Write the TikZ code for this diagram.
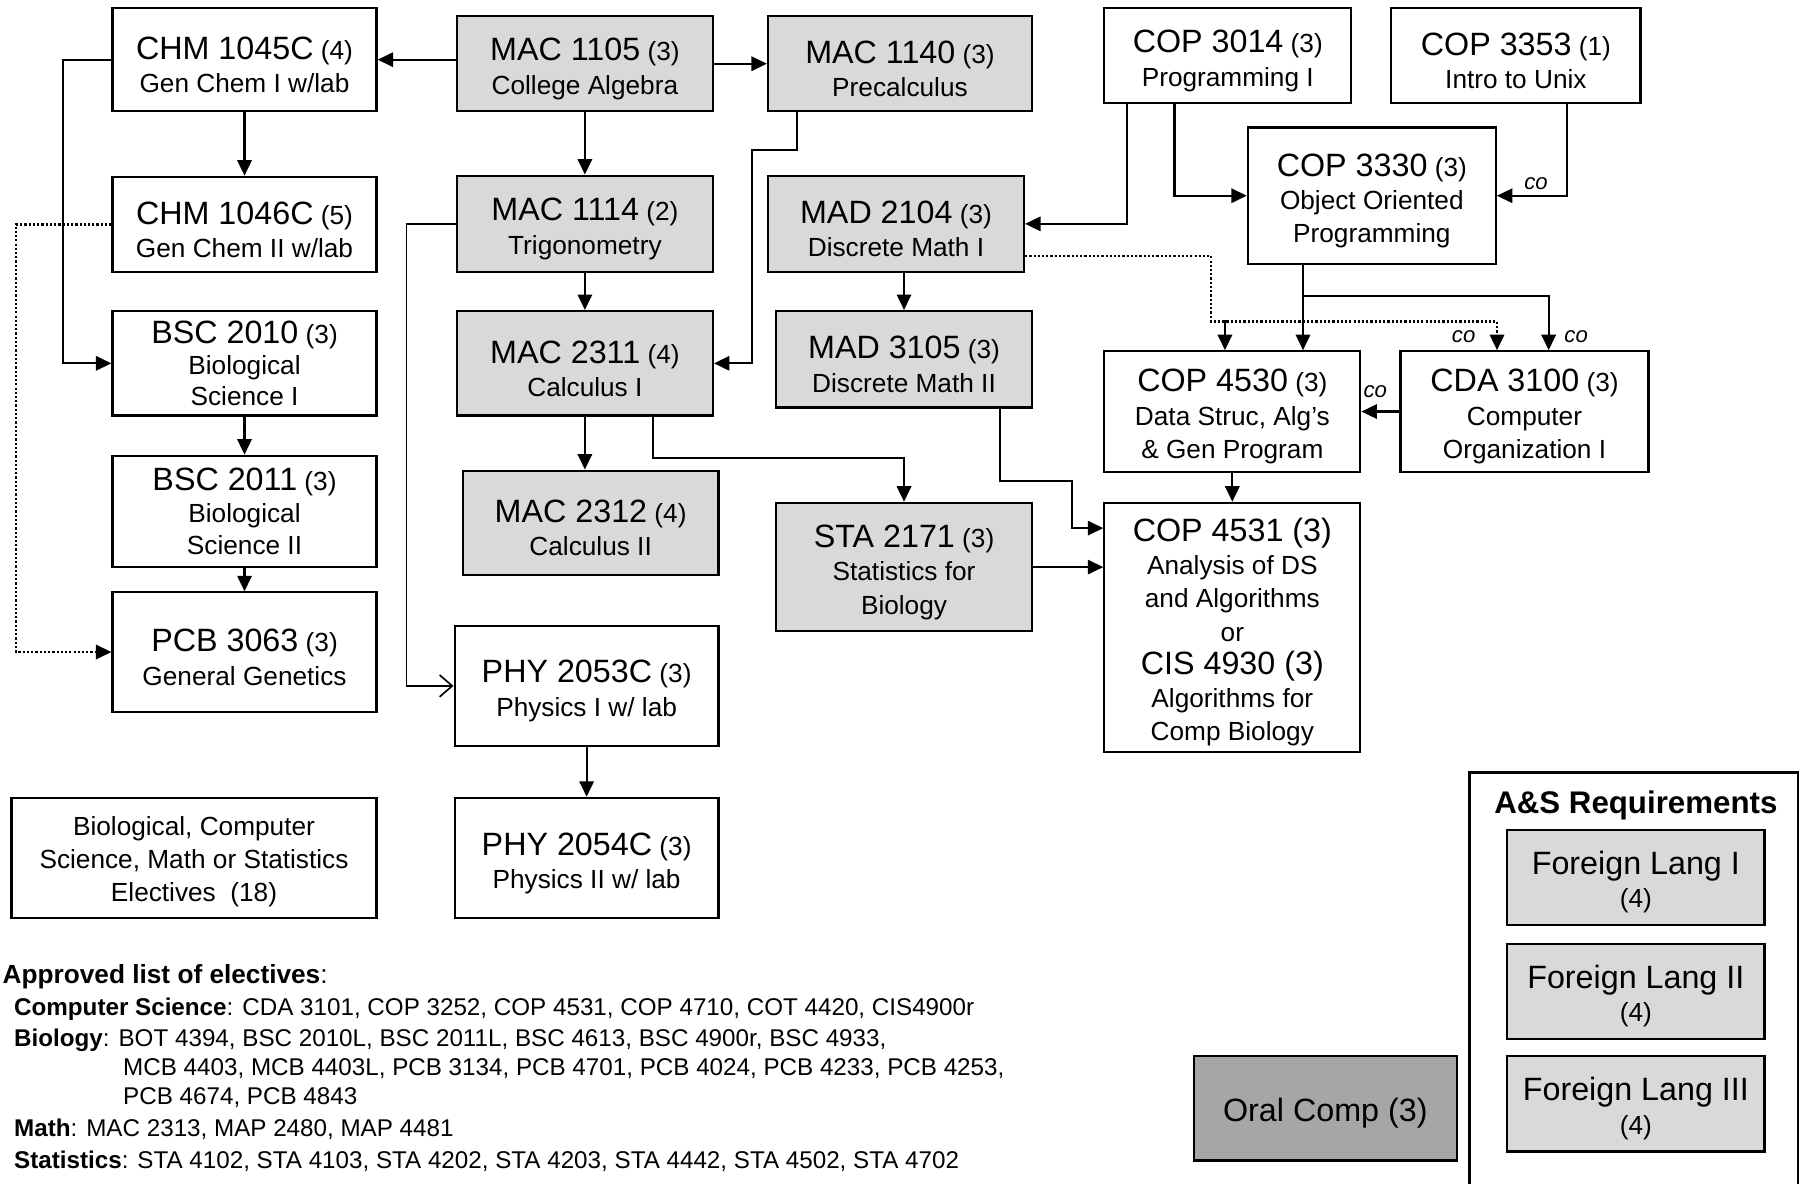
\documentclass[tikz,border=0pt]{standalone}
\usepackage{fontspec}
\setmainfont{Liberation Sans}
\usetikzlibrary{calc,arrows.meta}
\definecolor{lgray}{HTML}{D9D9D9}
\definecolor{dgray}{HTML}{A6A6A6}
\def\cnum#1{{\fontsize{16}{17}\selectfont\rule{0pt}{16.3pt}#1}}
\def\cnumt#1{{\fontsize{16}{17}\selectfont #1}}
\tikzset{
	crs/.style={draw, line width=1.1pt, inner sep=0pt, align=center, font=\fontsize{13}{16.5}\selectfont},
	crsg/.style={crs, fill=lgray},
	arr/.style={line width=1.1pt, -{Triangle[length=2.7mm,width=2.5mm]}},
	opn/.style={line width=0.8pt, -{Straight Barb[length=2.2mm,width=3.8mm]}},
	dots/.style={line width=1.1pt, densely dotted},
	colbl/.style={font=\fontsize{11}{11}\selectfont\itshape, inner sep=0pt},
	lst/.style={anchor=base west, inner sep=0pt, font=\fontsize{12}{12}\selectfont}
}

\begin{document}
\begin{tikzpicture}[x=0.02cm, y=-0.02cm]
		%%%%% START %%%%%
		\useasboundingbox (0,0) rectangle (1568,1031);
		
		\node[crs, minimum width=4.6cm, minimum height=1.8cm] (chma) at (213,52) {\cnum{CHM 1045C} (4)\\Gen Chem I w/lab};
		\node[crs, minimum width=4.6cm, minimum height=1.66cm] (chmb) at (213,195.5) {\cnum{CHM 1046C} (5)\\Gen Chem II w/lab};
		\node[crs, font=\fontsize{13}{15.6}\selectfont, minimum width=4.6cm, minimum height=1.82cm] (bsca) at (213,316.5) {\cnumt{BSC 2010} (3)\\Biological\\Science I};
		\node[crs, font=\fontsize{13}{15.8}\selectfont, minimum width=4.6cm, minimum height=1.94cm] (bscb) at (213,445.5) {\cnumt{BSC 2011} (3)\\Biological\\Science II};
		\node[crs, minimum width=4.6cm, minimum height=2.08cm] (pcb) at (213,568) {\cnum{PCB 3063} (3)\\General Genetics};
		\node[crs, minimum width=6.36cm, minimum height=2.1cm] (elect) at (169,747.5) {\rule{0pt}{13pt}Biological, Computer\\Science, Math or Statistics\\Electives~~(18)};
		
		\node[crsg, minimum width=4.46cm, minimum height=1.66cm] (maca) at (509.5,55.5) {\cnum{MAC 1105} (3)\\College Algebra};
		\node[crsg, minimum width=4.46cm, minimum height=1.68cm] (macb) at (509.5,195) {\cnum{MAC 1114} (2)\\Trigonometry};
		\node[crsg, minimum width=4.46cm, minimum height=1.82cm] (macc) at (509.5,316.5) {\cnum{MAC 2311} (4)\\Calculus I};
		\node[crsg, minimum width=4.46cm, minimum height=1.82cm] (macd) at (514.5,455.5) {\cnum{MAC 2312} (4)\\Calculus II};
		\node[crs, minimum width=4.6cm, minimum height=2.1cm] (phya) at (511,597.5) {\cnum{PHY 2053C} (3)\\Physics I w/ lab};
		\node[crs, minimum width=4.6cm, minimum height=2.1cm] (phyb) at (511,747.5) {\cnum{PHY 2054C} (3)\\Physics II w/ lab};
		
		\node[crsg, minimum width=4.6cm, minimum height=1.66cm] (mace) at (784,55.5) {\cnum{MAC 1140} (3)\\Precalculus};
		\node[crsg, minimum width=4.46cm, minimum height=1.68cm] (mada) at (780.5,195) {\cnum{MAD 2104} (3)\\Discrete Math I};
		\node[crsg, minimum width=4.46cm, minimum height=1.68cm] (madb) at (787.5,313) {\cnum{MAD 3105} (3)\\Discrete Math II};
		\node[crsg, minimum width=4.46cm, minimum height=2.24cm] (sta) at (787.5,494) {\cnum{STA 2171} (3)\\Statistics for\\Biology};
		
		\node[crs, minimum width=4.3cm, minimum height=1.66cm] (copa) at (1069.5,48.5) {\cnum{COP 3014} (3)\\Programming I};
		\node[crs, minimum width=4.34cm, minimum height=1.66cm] (copb) at (1320.5,48.5) {\cnum{COP 3353} (1)\\Intro to Unix};
		\node[crs, minimum width=4.32cm, minimum height=2.38cm] (copc) at (1195,170.5) {\cnum{COP 3330} (3)\\Object Oriented\\Programming};
		\node[crs, minimum width=4.46cm, minimum height=2.1cm] (copd) at (1073.5,358.5) {\cnum{COP 4530} (3)\\Data Struc, Alg’s\\\& Gen Program};
		\node[crs, minimum width=4.32cm, minimum height=2.1cm] (cda) at (1328,358.5) {\cnum{CDA 3100} (3)\\Computer\\Organization I};
		\node[crs, minimum width=4.46cm, minimum height=4.34cm] (cope) at (1073.5,546.5) {\cnum{COP 4531 (3)}\\Analysis of DS\\and Algorithms\\or\\\cnum{CIS 4930 (3)}\\Algorithms for\\Comp Biology};
		
		\node[crs, fill=dgray, minimum width=4.58cm, minimum height=1.82cm] (oral) at (1154.5,965.5) {\cnum{Oral Comp (3)}};
		\draw[line width=1.1pt] (1280,673) rectangle (1566,1045);
		\node[font=\bfseries\fontsize{15.5}{16}\selectfont] (astitle) at (1425,702) {A\&S Requirements};
		\node[crsg, minimum width=4.48cm, minimum height=1.66cm] (fla) at (1425,764.5) {\cnum{Foreign Lang I}\\(4)};
		\node[crsg, minimum width=4.48cm, minimum height=1.66cm] (flb) at (1425,863.5) {\cnum{Foreign Lang II}\\(4)};
		\node[crsg, minimum width=4.48cm, minimum height=1.66cm] (flc) at (1425,961.5) {\cnum{Foreign Lang III}\\(4)};
		
		% chemistry and biology
		\draw[arr] (maca.west |- chma.east) -- (chma.east);
		\draw[arr] (chma) -- (chmb);
		\draw[arr] (chma.west) -- ++(-42,0) |- (bsca.west);
		\draw[arr, dots] (chmb.west) -- ++(-83,0) |- (pcb.west);
		\draw[arr] (bsca) -- (bscb);
		\draw[arr] (bscb) -- (pcb);
		
		% math and physics
		\draw[arr] (maca) -- (mace);
		\draw[arr] (maca) -- (macb);
		\draw[arr] (macb) -- (macc);
		\draw[opn] (macb.west) -- ++(-43,0) |- (phya.west);
		\draw[arr] ($(mace.south west)+(26,0)$) -- ++(0,33) -- ++(-39,0) |- (macc.east);
		\draw[arr] (macc.south) -- (macc.south |- macd.north);
		\draw[arr] ($(macc.south west)+(172,0)$) -- ++(0,36) -| (sta.north);
		\draw[arr] (phya) -- (phyb);
		\draw[arr] (madb.north |- mada.south) -- (madb.north);
		
		% computer science
		\draw[arr] ($(copa.south west)+(21,0)$) |- (mada.east);
		\draw[arr] ($(copa.south west)+(62,0)$) |- (copc.west);
		\draw[arr] ($(copb.south west)+(154,0)$) |- (copc.east);
		\node[colbl] (coa) at (1338,160) {co};
		\coordinate (split) at ($(copc.south west)+(49,0)$);
		\draw[arr] (split) -- (split |- copd.north);
		\draw[arr] (split) ++(0,27) -| ($(cda.north west)+(130,0)$);
		\node[colbl] (cob) at (1373,293) {co};
		\coordinate (dotturn) at (1055,280);
		\draw[arr, dots] ($(mada.south east)+(0,-15)$) -| (dotturn) -| ($(cda.north west)+(85,0)$);
		\draw[arr] ($(copd.north west)+(106,-26)$) -- ++(0,26);
		\node[colbl] (coc) at (1275,293) {co};
		\draw[arr] (cda.west) -- (cda.west -| copd.east);
		\node[colbl] (cod) at (1198,341) {co};
		\draw[arr] (copd) -- (cope);
		\draw[arr] ($(madb.south west)+(196,0)$) -- ++(0,63) -- ++(63,0) |- ($(cope.north west)+(0,23)$);
		\draw[arr] (sta.east) -- (sta.east -| cope.west);
		
		% electives list
		\node[lst, font=\fontsize{13}{13}\selectfont] (lsthead) at (2,857) {\textbf{Approved list of electives}:};
		\node[lst] (lstcs) at (12,885) {\textbf{Computer Science}: CDA 3101, COP 3252, COP 4531, COP 4710, COT 4420, CIS4900r};
		\node[lst] (lstbio) at (12,912) {\textbf{Biology}: BOT 4394, BSC 2010L, BSC 2011L, BSC 4613, BSC 4900r, BSC 4933,};
		\node[lst] (lstbiob) at (107,937) {MCB 4403, MCB 4403L, PCB 3134, PCB 4701, PCB 4024, PCB 4233, PCB 4253,};
		\node[lst] (lstbioc) at (107,962) {PCB 4674, PCB 4843};
		\node[lst] (lstmath) at (12,990) {\textbf{Math}: MAC 2313, MAP 2480, MAP 4481};
		\node[lst] (lststa) at (12,1018) {\textbf{Statistics}: STA 4102, STA 4103, STA 4202, STA 4203, STA 4442, STA 4502, STA 4702};
		
		%%%%% END %%%%%
\end{tikzpicture}
\end{document}
